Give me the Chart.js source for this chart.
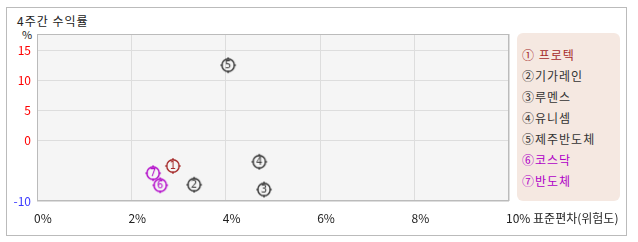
<!DOCTYPE html>
<html>
<head>
<meta charset="utf-8">
<script src="https://cdn.jsdelivr.net/npm/chart.js@4"></script>
<style>
  body { margin: 0; background: #fff; font-family: "Noto Sans CJK KR", sans-serif; }
  #wrap { position: relative; width: 638px; height: 242px; }
  #frame { position: absolute; left: 6px; top: 7px; width: 619px; height: 227px; border: 1px solid #bbb; }
  #title { position: absolute; left: 17px; top: 12px; font-size: 12px; line-height: 18px; color: #222; letter-spacing: 1px; }
  #unit { position: absolute; left: 22px; top: 27px; font-size: 11px; line-height: 14px; color: #222; }
  #legend { position: absolute; left: 517px; top: 33px; width: 103px; height: 168px; background: #f5e8e1; border-radius: 6px; }
  #legend div { position: absolute; left: 5px; font-size: 12px; line-height: 16px; white-space: nowrap; letter-spacing: 1px; }
  canvas { position: absolute; left: 0; top: 0; }
</style>
</head>
<body>
<div id="wrap">
  <div id="frame"></div>
  <div id="title">4주간 수익률</div>
  <div id="unit">%</div>
  <div id="legend"></div>
  <canvas id="chart" width="638" height="242"></canvas>
</div>
<script>
const names = ['프로텍', '기가레인', '루멘스', '유니셈', '제주반도체', '코스닥', '반도체'];
const stdDev = [2.88, 3.33, 4.81, 4.71, 4.05, 2.61, 2.46];
const returns = [-4.2, -7.3, -8.1, -3.5, 12.5, -7.4, -5.4];
const colors = ['#a52a2a', '#333333', '#333333', '#333333', '#333333', '#b000c8', '#b000c8'];
const circled = ['①', '②', '③', '④', '⑤', '⑥', '⑦'];
const yTicks = [15, 10, 5, 0, -10];
const xTicks = [0, 2, 4, 6, 8, 10];
const xTickLabels = ['0%', '2%', '4%', '6%', '8%', '10% 표준편차(위험도)'];

// legend
const legend = document.getElementById('legend');
names.forEach((n, i) => {
  const row = document.createElement('div');
  row.style.top = (14 + i * 21) + 'px';
  row.style.color = colors[i];
  row.textContent = circled[i] + (i === 0 ? ' ' : '') + n;
  legend.appendChild(row);
});

function makeMarker(num, color) {
  const c = document.createElement('canvas');
  c.width = 18; c.height = 18;
  const g = c.getContext('2d');
  g.strokeStyle = color;
  g.fillStyle = color;
  g.lineWidth = 1.4;
  g.beginPath();
  g.arc(9, 9, 6.2, 0, Math.PI * 2);
  g.stroke();
  g.lineWidth = 1.2;
  g.beginPath();
  g.moveTo(9, 1); g.lineTo(9, 3.5);
  g.moveTo(9, 14.5); g.lineTo(9, 17);
  g.moveTo(1, 9); g.lineTo(3.5, 9);
  g.moveTo(14.5, 9); g.lineTo(17, 9);
  g.stroke();
  g.font = '10px "DejaVu Sans", sans-serif';
  g.textAlign = 'center';
  g.textBaseline = 'middle';
  g.fillText(String(num), 9, 9.5);
  return c;
}

const plotBg = {
  id: 'plotBg',
  beforeDraw(chart) {
    const { ctx, chartArea: a } = chart;
    ctx.save();
    ctx.fillStyle = '#f5f5f5';
    ctx.fillRect(a.left, a.top, a.right - a.left, a.bottom - a.top);
    ctx.restore();
  },
  afterDatasetsDraw(chart) {
    const { ctx, chartArea: a } = chart;
    ctx.save();
    ctx.strokeStyle = '#bbbbbb';
    ctx.lineWidth = 1;
    ctx.strokeRect(a.left + 0.5, a.top + 0.5, a.right - a.left - 1, a.bottom - a.top - 1);
    ctx.restore();
  }
};

new Chart(document.getElementById('chart'), {
  type: 'scatter',
  data: {
    datasets: names.map((n, i) => ({
      label: n,
      data: [{ x: stdDev[i], y: returns[i] }],
      pointStyle: makeMarker(i + 1, colors[i]),
    }))
  },
  options: {
    responsive: false,
    animation: false,
    layout: { padding: { left: 0, top: 34, right: 129, bottom: 0 } },
    plugins: { legend: { display: false }, tooltip: { enabled: false } },
    scales: {
      x: {
        min: 0, max: 10,
        afterBuildTicks: (s) => { s.ticks = xTicks.map(v => ({ value: v })); },
        afterFit: (s) => { s.height = 41; },
        grid: { color: '#dddddd', drawTicks: false },
        border: { display: false },
        ticks: {
          align: 'start',
          labelOffset: -3,
          padding: 10,
          color: '#222',
          font: { family: 'Noto Sans CJK KR', size: 12 },
          maxRotation: 0,
          autoSkip: false,
          callback: (v) => xTickLabels[xTicks.indexOf(v)]
        }
      },
      y: {
        min: -10, max: 17.67,
        afterBuildTicks: (s) => { s.ticks = yTicks.map(v => ({ value: v })); },
        afterFit: (s) => { s.width = 37; },
        grid: { color: '#dddddd', drawTicks: false },
        border: { display: false },
        ticks: {
          padding: 6,
          color: (ctx) => ctx.tick && ctx.tick.value < 0 ? '#3a3aff' : '#ff0000',
          font: { family: 'Noto Sans CJK KR', size: 12 },
          autoSkip: false,
          callback: (v) => String(v)
        }
      }
    }
  },
  plugins: [plotBg]
});
</script>
</body>
</html>
